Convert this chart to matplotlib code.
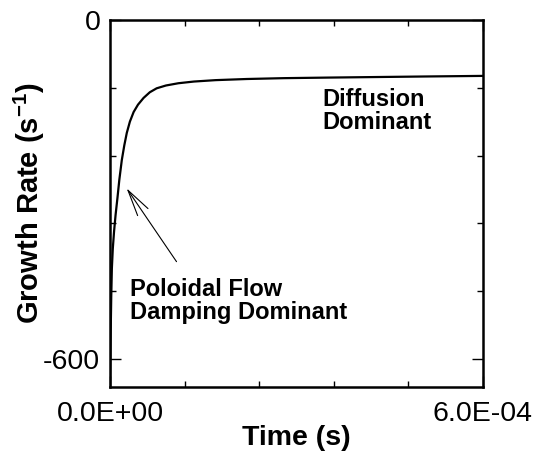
import numpy as np
import matplotlib
matplotlib.use("Agg")
import matplotlib.pyplot as plt
from matplotlib.ticker import MultipleLocator, FixedLocator

plt.rcParams['font.family'] = ['Liberation Sans', 'DejaVu Sans']
plt.rcParams['mathtext.default'] = 'regular'

# growth rate history (time in s, rate in 1/s)
time_s = [0.0, 1.0e-6, 2.0e-6, 3.0e-6, 4.5e-6, 6.5e-6, 9.0e-6, 1.2e-5,
          1.5e-5, 1.9e-5, 2.3e-5, 2.7e-5, 3.2e-5, 3.8e-5, 4.5e-5, 5.4e-5,
          6.4e-5, 7.5e-5, 9.0e-5, 1.1e-4, 1.35e-4, 1.7e-4, 2.2e-4, 2.8e-4,
          3.5e-4, 4.3e-4, 5.1e-4, 6.0e-4]
growth_rate = [-655, -560, -490, -440, -405, -375, -345, -315,
               -283, -248, -222, -200, -180, -163, -150, -138,
               -128, -121, -116, -112, -109, -106.5, -104.5, -103,
               -102, -101, -100, -99]

x_limits = (0.0, 6.0e-4)
y_limits = (-650, 0)
x_labeled = [0.0, 6.0e-4]
y_labeled = [-600, 0]

fig = plt.figure(figsize=(5.38, 4.54), dpi=100)
ax = fig.add_axes([110 / 538, 1 - 387 / 454, 373 / 538, 367 / 454])

ax.plot(time_s, growth_rate, color='black', linewidth=1.6,
        solid_joinstyle='round')

ax.set_xlim(*x_limits)
ax.set_ylim(*y_limits)

ax.xaxis.set_major_locator(FixedLocator(x_labeled))
ax.xaxis.set_minor_locator(MultipleLocator(1.2e-4))
ax.yaxis.set_major_locator(FixedLocator(y_labeled))
ax.yaxis.set_minor_locator(MultipleLocator(120))
ax.xaxis.set_major_formatter(lambda v, pos: f"{v:.1E}")
ax.yaxis.set_major_formatter(lambda v, pos: f"{int(round(v))}")

ax.tick_params(which='both', direction='in', top=True, right=True,
               width=1.0, labelsize=20.5)
ax.tick_params(which='major', length=8)
ax.tick_params(which='minor', length=4.2)
ax.tick_params(axis='y', which='major', pad=7)
ax.tick_params(axis='x', which='major', pad=10)

for s in ax.spines.values():
    s.set_linewidth(1.8)

ax.set_xlabel('Time (s)', fontsize=20.5, fontweight='bold')
ax.set_ylabel('Growth Rate (s$^{-1}$)', fontsize=21, fontweight='bold')
ax.xaxis.set_label_coords(0.5, -(425 - 387) / 367)
ax.yaxis.set_label_coords((47 - 110) / 373, 0.5)

# labels for the two regimes
ax.text(3.42e-4, -120, 'Diffusion\nDominant', fontsize=17, fontweight='bold',
        ha='left', va='top', linespacing=1.02)
ax.text(3.2e-5, -457, 'Poloidal Flow\nDamping Dominant', fontsize=17,
        fontweight='bold', ha='left', va='top', linespacing=1.02)
ax.annotate('', xy=(2.67e-5, -298), xytext=(1.07e-4, -428),
            arrowprops=dict(arrowstyle='->,head_length=1.9,head_width=0.45',
                            color='black', linewidth=0.8, mutation_scale=10,
                            shrinkA=0, shrinkB=0))

fig.savefig('out.png', dpi=100)
